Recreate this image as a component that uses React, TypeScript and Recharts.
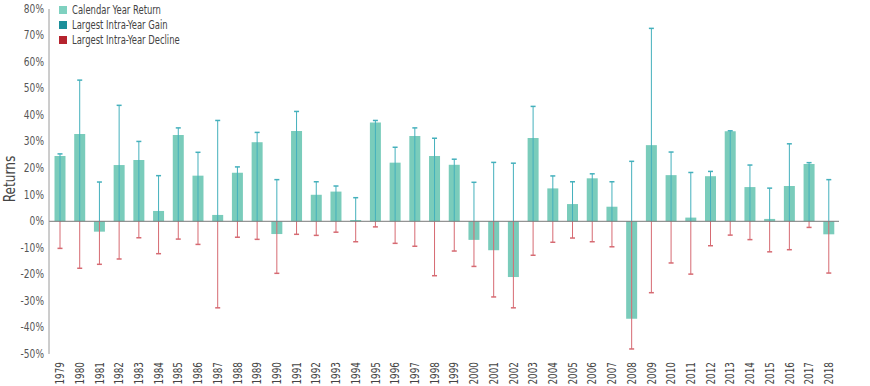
import React from 'react';
import { ComposedChart, Bar, XAxis, YAxis, ReferenceLine } from 'recharts';

const years = [
  '1979', '1980', '1981', '1982', '1983', '1984', '1985', '1986', '1987', '1988',
  '1989', '1990', '1991', '1992', '1993', '1994', '1995', '1996', '1997', '1998',
  '1999', '2000', '2001', '2002', '2003', '2004', '2005', '2006', '2007', '2008',
  '2009', '2010', '2011', '2012', '2013', '2014', '2015', '2016', '2017', '2018',
];

const calendarReturn = [
  24.6, 32.9, -3.9, 21.2, 23.1, 3.9, 32.5, 17.2, 2.4, 18.3,
  29.8, -4.8, 34.0, 10.0, 11.2, 0.5, 37.2, 22.1, 32.1, 24.6,
  21.3, -7.0, -10.9, -21.0, 31.4, 12.4, 6.5, 16.2, 5.5, -36.7,
  28.7, 17.4, 1.4, 17.0, 33.9, 12.9, 0.9, 13.3, 21.6, -4.9,
];

const intraGain = [
  25.4, 53.2, 14.8, 43.7, 30.1, 17.2, 35.2, 26.0, 38.0, 20.5,
  33.5, 15.7, 41.4, 14.9, 13.3, 8.9, 38.0, 27.9, 35.2, 31.3,
  23.4, 14.7, 22.2, 21.9, 43.3, 17.1, 14.9, 17.9, 14.9, 22.6,
  72.7, 26.1, 18.4, 18.8, 34.1, 21.2, 12.5, 29.2, 22.1, 15.7,
];

const intraDecline = [
  -10.2, -17.7, -16.2, -14.2, -6.2, -12.2, -6.7, -8.7, -32.6, -6.0,
  -6.8, -19.6, -4.9, -5.3, -4.1, -7.7, -2.1, -8.3, -9.4, -20.5,
  -11.2, -17.0, -28.5, -32.6, -12.8, -7.9, -6.3, -7.7, -9.6, -48.1,
  -26.9, -15.7, -19.9, -9.2, -5.2, -6.9, -11.5, -10.7, -2.3, -19.5,
];

const yTicks = [-50, -40, -30, -20, -10, 0, 10, 20, 30, 40, 50, 60, 70, 80];

const data = years.map((year, i) => ({
  year,
  ret: calendarReturn[i],
  gain: intraGain[i],
  decline: intraDecline[i],
}));

const FONT = "'DejaVu Sans Condensed', 'DejaVu Sans', sans-serif";
const BAR_COLOR = '#7ACCBB';
const GAIN_COLOR = '#44B0BC';
const DECLINE_COLOR = '#D66A72';
const X_PAD = { left: 1.5, right: 0 };

const legendItems = [
  { label: 'Calendar Year Return', color: '#7FD1C0' },
  { label: 'Largest Intra-Year Gain', color: '#1B8F9A' },
  { label: 'Largest Intra-Year Decline', color: '#B5242E' },
];

const makeWhisker = (color: string, capAtTop: boolean) => (props: any) => {
  const { x, y, width, height } = props;
  if (x == null || y == null) return null;
  const cx = x + width / 2;
  const top = Math.min(y, y + height);
  const bottom = Math.max(y, y + height);
  const capY = capAtTop ? top : bottom;
  return (
    <g>
      <line x1={cx} x2={cx} y1={top} y2={bottom} stroke={color} strokeWidth={1} />
      <line x1={cx - 2.5} x2={cx + 2.5} y1={capY} y2={capY} stroke={color} strokeWidth={1.5} />
    </g>
  );
};

// tick labels sit just under the plot (plot bottom = 354)
const YearTick = ({ x, payload }: any) => (
  <text
    transform={`translate(${x},362) rotate(-90) scale(0.82,1)`}
    x={0}
    y={0}
    textAnchor="end"
    dominantBaseline="central"
    fontSize={12}
    fill="#444"
    fontFamily={FONT}
  >
    {payload.value}
  </text>
);

const PctTick = ({ x, y, payload }: any) => (
  <text
    transform={`translate(${x + 2},${y}) scale(0.84,1)`}
    x={0}
    y={0}
    textAnchor="end"
    dominantBaseline="central"
    fontSize={12}
    fill="#555"
    fontFamily={FONT}
  >
    {`${payload.value}%`}
  </text>
);

export default function App() {
  return (
    <div style={{ position: 'absolute', left: 0, top: 0, width: 870, height: 386, background: '#fff', fontFamily: FONT }}>
      <ComposedChart
        width={870}
        height={386}
        data={data}
        margin={{ top: 9, right: 31, bottom: 0, left: 0 }}
      >
        <XAxis
          xAxisId="main"
          dataKey="year"
          axisLine={false}
          tickLine={false}
          height={32}
          interval={0}
          padding={X_PAD}
          tick={<YearTick />}
        />
        <XAxis xAxisId="g" dataKey="year" hide height={0} padding={X_PAD} />
        <XAxis xAxisId="d" dataKey="year" hide height={0} padding={X_PAD} />
        <YAxis
          width={49}
          domain={[-50, 80]}
          ticks={yTicks}
          interval={0}
          axisLine={{ stroke: '#9a9a9a' }}
          tickLine={false}
          tickSize={5}
          tick={<PctTick />}
          label={{
            content: () => (
              <text
                transform="translate(10,179) rotate(-90) scale(0.9,1)"
                x={0}
                y={0}
                textAnchor="middle"
                dominantBaseline="central"
                fontSize={15}
                fill="#444"
                fontFamily={FONT}
              >
                Returns
              </text>
            ),
          }}
        />
        <Bar xAxisId="main" dataKey="ret" fill={BAR_COLOR} barSize={11} isAnimationActive={false} />
        <ReferenceLine xAxisId="main" y={0} stroke="#7a7a7a" strokeWidth={1} />
        <Bar xAxisId="g" dataKey="gain" barSize={11} shape={makeWhisker(GAIN_COLOR, true)} isAnimationActive={false} />
        <Bar xAxisId="d" dataKey="decline" barSize={11} shape={makeWhisker(DECLINE_COLOR, false)} isAnimationActive={false} />
      </ComposedChart>
      <div style={{ position: 'absolute', left: 59, top: 2, fontSize: 12.5, color: '#444', lineHeight: '15px' }}>
        {legendItems.map((item) => (
          <div key={item.label} style={{ display: 'flex', alignItems: 'center' }}>
            <span style={{ width: 8, height: 8, background: item.color, display: 'inline-block', marginRight: 5, flex: 'none' }} />
            <span style={{ display: 'inline-block', transform: 'scaleX(0.75)', transformOrigin: 'left center', whiteSpace: 'nowrap' }}>
              {item.label}
            </span>
          </div>
        ))}
      </div>
    </div>
  );
}
